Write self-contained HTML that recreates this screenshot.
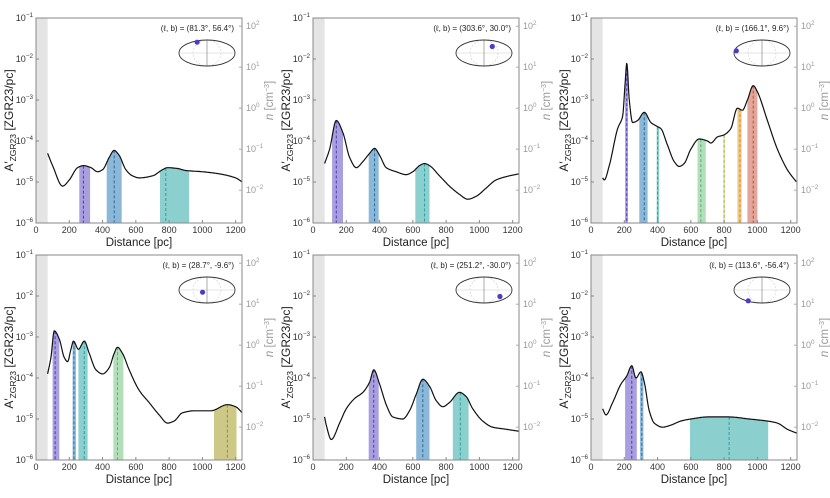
<!DOCTYPE html>
<html><head><meta charset="utf-8">
<style>
body{margin:0;background:#fff;}
svg{display:block;font-family:"Liberation Sans","DejaVu Sans",sans-serif;}
</style></head>
<body>
<svg id="fig" width="830" height="498" viewBox="0 0 830 498" xmlns="http://www.w3.org/2000/svg"></svg>
<script>
const NS="http://www.w3.org/2000/svg";
// Data (distances in pc, log10 A' values)
const p1Dist=[70,100,160,200,250,285,330,370,400,440,470,500,540,580,620,700,760,790,850,900,1000,1100,1200,1240];
const p1Log=[-4.3,-4.6,-5.1,-4.95,-4.65,-4.6,-4.65,-4.75,-4.7,-4.4,-4.23,-4.35,-4.7,-4.85,-4.9,-4.85,-4.7,-4.65,-4.67,-4.72,-4.75,-4.8,-4.9,-5.0];
const p2Dist=[70,100,140,180,220,260,300,340,370,400,440,500,560,600,640,670,700,760,820,880,930,980,1040,1100,1180,1240];
const p2Log=[-4.55,-4.2,-3.5,-3.8,-4.4,-4.65,-4.5,-4.3,-4.18,-4.35,-4.65,-4.75,-4.82,-4.75,-4.6,-4.55,-4.6,-4.85,-5.1,-5.3,-5.42,-5.35,-5.15,-4.95,-4.85,-4.8];
const p3Dist=[70,80,110,160,190,205,215,230,250,280,320,360,400,420,460,500,530,560,600,650,700,720,760,800,840,880,910,940,975,1000,1060,1120,1180,1235];
const p3Log=[-4.9,-4.95,-4.6,-3.7,-3.4,-2.6,-2.1,-3.0,-3.55,-3.5,-3.3,-3.55,-3.65,-3.7,-4.1,-4.5,-4.62,-4.55,-4.2,-3.95,-4.0,-4.05,-3.9,-3.85,-3.7,-3.2,-3.25,-3.0,-2.65,-2.8,-3.5,-4.2,-4.7,-5.0];
const p4Dist=[70,90,110,140,170,190,210,225,255,290,320,360,400,440,470,490,520,560,620,680,740,790,830,880,950,1050,1150,1200,1240];
const p4Log=[-3.9,-3.5,-2.85,-3.05,-3.5,-3.6,-3.3,-3.1,-3.3,-3.1,-3.4,-3.8,-3.9,-3.75,-3.4,-3.25,-3.4,-3.8,-4.3,-4.6,-4.9,-5.1,-5.05,-4.85,-4.8,-4.8,-4.65,-4.7,-4.85];
const p5Dist=[70,80,110,160,200,250,300,340,365,400,440,480,540,580,620,660,700,740,780,820,880,920,960,1020,1080,1160,1240];
const p5Log=[-4.95,-5.15,-5.5,-5.1,-4.75,-4.5,-4.35,-4.1,-3.8,-4.15,-4.65,-4.95,-5.0,-4.8,-4.4,-4.03,-4.2,-4.55,-4.7,-4.6,-4.35,-4.45,-4.75,-5.05,-5.2,-5.25,-5.3];
const p6Dist=[70,90,130,180,215,245,270,300,320,350,380,430,480,540,600,700,830,950,1060,1120,1180,1240];
const p6Log=[-4.75,-4.9,-4.6,-4.15,-3.95,-3.7,-4.0,-3.85,-4.1,-4.8,-5.1,-5.2,-5.15,-5.05,-5.0,-4.95,-4.95,-5.0,-5.05,-5.1,-5.25,-5.35];
// bands: [lo, hi, center, colorIndex]
const p1Bands=[[260,325,285,0],[425,515,470,1],[745,920,780,2]];
const p2Bands=[[115,180,140,0],[335,395,370,1],[615,700,670,2]];
const p3Bands=[[205,222,215,0],[290,340,320,1],[395,410,400,2],[640,690,660,3],[795,805,800,4],[880,905,895,5],[940,1000,975,6]];
const p4Bands=[[100,140,115,0],[220,240,228,1],[255,310,290,2],[465,525,490,3],[1070,1205,1150,7]];
const p5Bands=[[335,395,365,0],[620,700,660,1],[840,935,885,2]];
const p6Bands=[[205,275,245,0],[295,315,305,1],[595,1065,830,2]];
const coords=[[81.3,56.4],[303.6,30.0],[166.1,9.6],[28.7,-9.6],[251.2,-30.0],[113.6,-56.4]];
const coordLabels=["81.3","56.4","303.6","30.0","166.1","9.6","28.7","-9.6","251.2","-30.0","113.6","-56.4"];
const xTicks=[0,200,400,600,800,1000,1200];
const yTicks=[-6,-5,-4,-3,-2,-1];
const nTicks=[-2,-1,0,1,2];

const fills=["#a89ee0","#8cb8d8","#8ccfcf","#b2dfba","#e2e2a6","#f2c884","#e3a69a","#cdc886"];
const dashes=["#4a3cb0","#2a6aa0","#2aa0a0","#5ab070","#b0b040","#d08a20","#c04a3a","#909030"];

const svg=document.getElementById('fig');
function el(tag,attrs,parent){const e=document.createElementNS(NS,tag);for(const k in attrs)e.setAttribute(k,attrs[k]);(parent||svg).appendChild(e);return e;}

const panels=[
 {L:36,T:18,d:p1Dist,v:p1Log,b:p1Bands},
 {L:313,T:18,d:p2Dist,v:p2Log,b:p2Bands},
 {L:591,T:18,d:p3Dist,v:p3Log,b:p3Bands},
 {L:36,T:255,d:p4Dist,v:p4Log,b:p4Bands},
 {L:313,T:255,d:p5Dist,v:p5Log,b:p5Bands},
 {L:591,T:255,d:p6Dist,v:p6Log,b:p6Bands}];
const W=206,H=205,XMAX=1238,NOFF=3.2;

function supText(g,x,y,base,exp,anchor,fill,size){
  const t=el('text',{x:x,y:y,'text-anchor':anchor,'font-size':size,fill:fill},g);
  t.appendChild(document.createTextNode(base));
  const s=el('tspan',{dy:-4,'font-size':size*0.7},t);
  s.textContent=exp;
  return t;
}
// monotone cubic (Fritsch-Carlson) interpolation
function smooth(ds,vs,x){
  const n=ds.length;
  if(x<=ds[0])return vs[0];
  if(x>=ds[n-1])return vs[n-1];
  let i=1;while(x>ds[i])i++;
  const sl=k=>(vs[k+1]-vs[k])/(ds[k+1]-ds[k]);
  const tan=k=>{
    if(k===0)return sl(0);
    if(k===n-1)return sl(n-2);
    const a=sl(k-1),b=sl(k);
    if(a*b<=0)return 0;
    return 2/(1/a+1/b);
  };
  const h=ds[i]-ds[i-1],t=(x-ds[i-1])/h;
  const m0=tan(i-1)*h,m1=tan(i)*h;
  const t2=t*t,t3=t2*t;
  return (2*t3-3*t2+1)*vs[i-1]+(t3-2*t2+t)*m0+(-2*t3+3*t2)*vs[i]+(t3-t2)*m1;
}

panels.forEach((p,pi)=>{
  const g=el('g',{},svg);
  
  
  const X=d=>p.L+d/XMAX*W;
  const Y=l=>p.T+H-(l+6)/5*H;
  const gr=el('rect',{x:X(0),y:p.T,width:X(70)-X(0),height:H,fill:'#e4e4e4'},g);
  
  
  for(const b of p.b){
    let pts=[];const n=30;
    for(let k=0;k<=n;k++){const d=b[0]+(b[1]-b[0])*k/n;pts.push(X(d).toFixed(1)+','+Y(smooth(p.d,p.v,d)).toFixed(1));}
    pts.push(X(b[1]).toFixed(1)+','+(p.T+H));pts.push(X(b[0]).toFixed(1)+','+(p.T+H));
    const poly=el('polygon',{points:pts.join(' '),fill:fills[b[3]]},g);
    
    
    const ln=el('line',{x1:X(b[2]),x2:X(b[2]),y1:Y(smooth(p.d,p.v,b[2])),y2:p.T+H,stroke:dashes[b[3]],'stroke-width':1,'stroke-dasharray':'3,2'},g);
    
    
  }
  let dstr='';
  const d0=p.d[0],d1=p.d[p.d.length-1];
  for(let d=d0,i=0;d<=d1+0.01;d+=3,i++){
    const dd=Math.min(d,d1);
    dstr+=(i?'L':'M')+X(dd).toFixed(1)+','+Y(smooth(p.d,p.v,dd)).toFixed(1);
  }
  const c=el('path',{d:dstr,fill:'none',stroke:'#111','stroke-width':1.2,'stroke-linejoin':'round'},g);
  
  
  const fr=el('rect',{x:p.L,y:p.T,width:W,height:H,fill:'none',stroke:'#888','stroke-width':1},g);
  
  
  xTicks.forEach(t=>{
    el('line',{x1:X(t),x2:X(t),y1:p.T+H,y2:p.T+H-3,stroke:'#888'},g);
    const tx=el('text',{x:X(t),y:p.T+H+10,'text-anchor':'middle','font-size':9,fill:'#333'},g);
    tx.textContent=t;
    
    
  });
  const xl=el('text',{x:p.L+W/2,y:p.T+H+23,'text-anchor':'middle','font-size':11.5,fill:'#222'},g);
  xl.textContent='Distance [pc]';
  
  
  yTicks.forEach(t=>{
    el('line',{x1:p.L,x2:p.L+3,y1:Y(t),y2:Y(t),stroke:'#888'},g);
    const tl=supText(g,p.L-3,Y(t)+3,'10','\u2212'+(-t),'end','#333',9);
    
    
  });
  nTicks.forEach(t=>{
    const y=Y(t-NOFF);
    el('line',{x1:p.L+W,x2:p.L+W-3,y1:y,y2:y,stroke:'#aaa'},g);
    const tl=supText(g,p.L+W+4,y+3,'10',t<0?'\u2212'+(-t):''+t,'start','#999',9);
    
    
  });
  const yl=el('text',{x:0,y:0,'text-anchor':'middle','font-size':12,fill:'#222',transform:`translate(${p.L-23},${p.T+H/2}) rotate(-90)`},g);
  yl.innerHTML='A\u2032<tspan font-size="8.5" dy="3">ZGR23</tspan><tspan dy="-3"> [ZGR23/pc]</tspan>';
  
  
  const nl=el('text',{x:0,y:0,'text-anchor':'middle','font-size':11.5,fill:'#999',transform:`translate(${p.L+W+31},${p.T+H/2-20}) rotate(-90)`},g);
  nl.innerHTML='<tspan font-style="italic">n</tspan> [cm<tspan font-size="7" dy="-4">\u22123</tspan><tspan dy="4">]</tspan>';
  
  
  const cl=el('text',{x:p.L+W-8,y:p.T+13,'text-anchor':'end','font-size':8,fill:'#222'},g);
  cl.textContent='(\u2113, b) = ('+coordLabels[pi*2]+'\u00b0, '+coordLabels[pi*2+1]+'\u00b0)';
  
  
  const cx=p.L+W-35,cy=p.T+35,rx=28,ry=13;
  const mg=el('g',{},g);
  
  
  el('ellipse',{cx:cx,cy:cy,rx:rx*0.5,ry:ry,fill:'none',stroke:'#ccc','stroke-width':0.6,'stroke-dasharray':'2,1.5'},mg);
  el('line',{x1:cx-rx,x2:cx+rx,y1:cy,y2:cy,stroke:'#ccc','stroke-width':0.6},mg);
  el('line',{x1:cx,x2:cx,y1:cy-ry,y2:cy+ry,stroke:'#888','stroke-width':0.7},mg);
  el('ellipse',{cx:cx,cy:cy,rx:rx,ry:ry,fill:'none',stroke:'#333','stroke-width':0.9},mg);
  let l=coords[pi][0];if(l>180)l-=360;const b=coords[pi][1];
  const dx=cx-rx*(l/180)*Math.sqrt(1-(b/90)*(b/90));
  const dy=cy-ry*Math.sin(b*Math.PI/180);
  const dot=el('circle',{cx:dx,cy:dy,r:2.6,fill:'#4b3cc8'},mg);
  
  
});
</script>
</body></html>
